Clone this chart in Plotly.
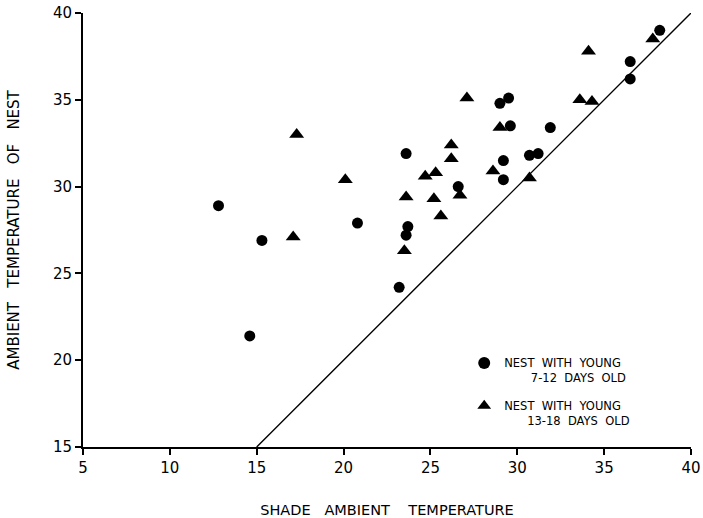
import plotly.graph_objects as go

# Nest with young 7-12 days old (circles)
young_x = [12.8, 15.3, 14.6, 20.8, 23.6, 23.7, 23.6, 23.2, 26.6, 29.0, 29.5, 29.6,
           29.2, 29.2, 30.7, 31.2, 31.9, 36.5, 36.5, 38.2]
young_y = [28.9, 26.9, 21.4, 27.9, 31.9, 27.7, 27.2, 24.2, 30.0, 34.8, 35.1, 33.5,
           31.5, 30.4, 31.8, 31.9, 33.4, 37.2, 36.2, 39.0]

# Nest with young 13-18 days old (triangles)
old_x = [17.1, 17.3, 20.1, 23.6, 23.5, 24.7, 25.3, 25.2, 25.6, 26.2, 26.2, 26.7,
         27.1, 29.0, 28.6, 30.7, 33.6, 34.3, 34.1, 37.8]
old_y = [27.1, 33.0, 30.4, 29.4, 26.3, 30.6, 30.8, 29.3, 28.3, 32.4, 31.6, 29.5,
         35.1, 33.4, 30.9, 30.5, 35.0, 34.9, 37.8, 38.5]

# one-to-one reference line
line_x = [15, 40]
line_y = [15, 40]

x_ticks = [5, 10, 15, 20, 25, 30, 35, 40]
y_ticks = [15, 20, 25, 30, 35, 40]

FONT = "DejaVu Sans"
SP = "\u00a0\u00a0"
N = "\u00a0"

fig = go.Figure()
fig.add_trace(go.Scatter(x=line_x, y=line_y, mode="lines",
                         line=dict(color="black", width=1.4), showlegend=False,
                         hoverinfo="skip"))
fig.add_trace(go.Scatter(x=young_x, y=young_y, mode="markers",
                         marker=dict(symbol="circle", size=11, color="black"),
                         legendgroup="a",
                         name="NEST" + SP + "WITH" + SP + "YOUNG<br>\u2003\u2003\u00a07-12" + SP + "DAYS" + SP + "OLD"))
fig.add_trace(go.Scatter(x=old_x, y=old_y, mode="markers",
                         marker=dict(symbol="triangle-up", size=13, color="black"),
                         legendgroup="b",
                         name="NEST" + SP + "WITH" + SP + "YOUNG<br>\u2003\u200313-18" + SP + "DAYS" + SP + "OLD"))

axis_common = dict(showgrid=False, zeroline=False, showline=True, linecolor="black",
                   linewidth=2, ticks="outside", ticklen=6, tickwidth=2,
                   tickcolor="black", tickfont=dict(family=FONT, size=15, color="black"),
                   mirror=False, automargin=False)

fig.update_layout(
    width=703, height=518,
    margin=dict(l=83, r=12, t=13, b=71),
    paper_bgcolor="white", plot_bgcolor="white",
    font=dict(family=FONT, color="black"),
    xaxis=dict(range=[5, 40], tickvals=x_ticks, ticktext=[str(v) for v in x_ticks],
               title=dict(text="SHADE" + N * 3 + "AMBIENT" + N * 4 + "TEMPERATURE",
                          font=dict(family=FONT, size=14.5, color="black"), standoff=30),
               **axis_common),
    yaxis=dict(range=[15, 40], tickvals=y_ticks, ticktext=[str(v) for v in y_ticks],
               title=dict(text="AMBIENT" + N * 3 + "TEMPERATURE" + N * 3 + "OF" + N * 3 + "NEST",
                          font=dict(family=FONT, size=15, color="black"), standoff=30),
               **axis_common),
    legend=dict(x=0.627, y=0.226, xanchor="left", yanchor="top", valign="top",
                bgcolor="rgba(0,0,0,0)", font=dict(family=FONT, size=11.5, color="black"),
                tracegroupgap=10, traceorder="grouped", itemsizing="constant"),
    showlegend=True,
)

fig.write_html("out.html")
